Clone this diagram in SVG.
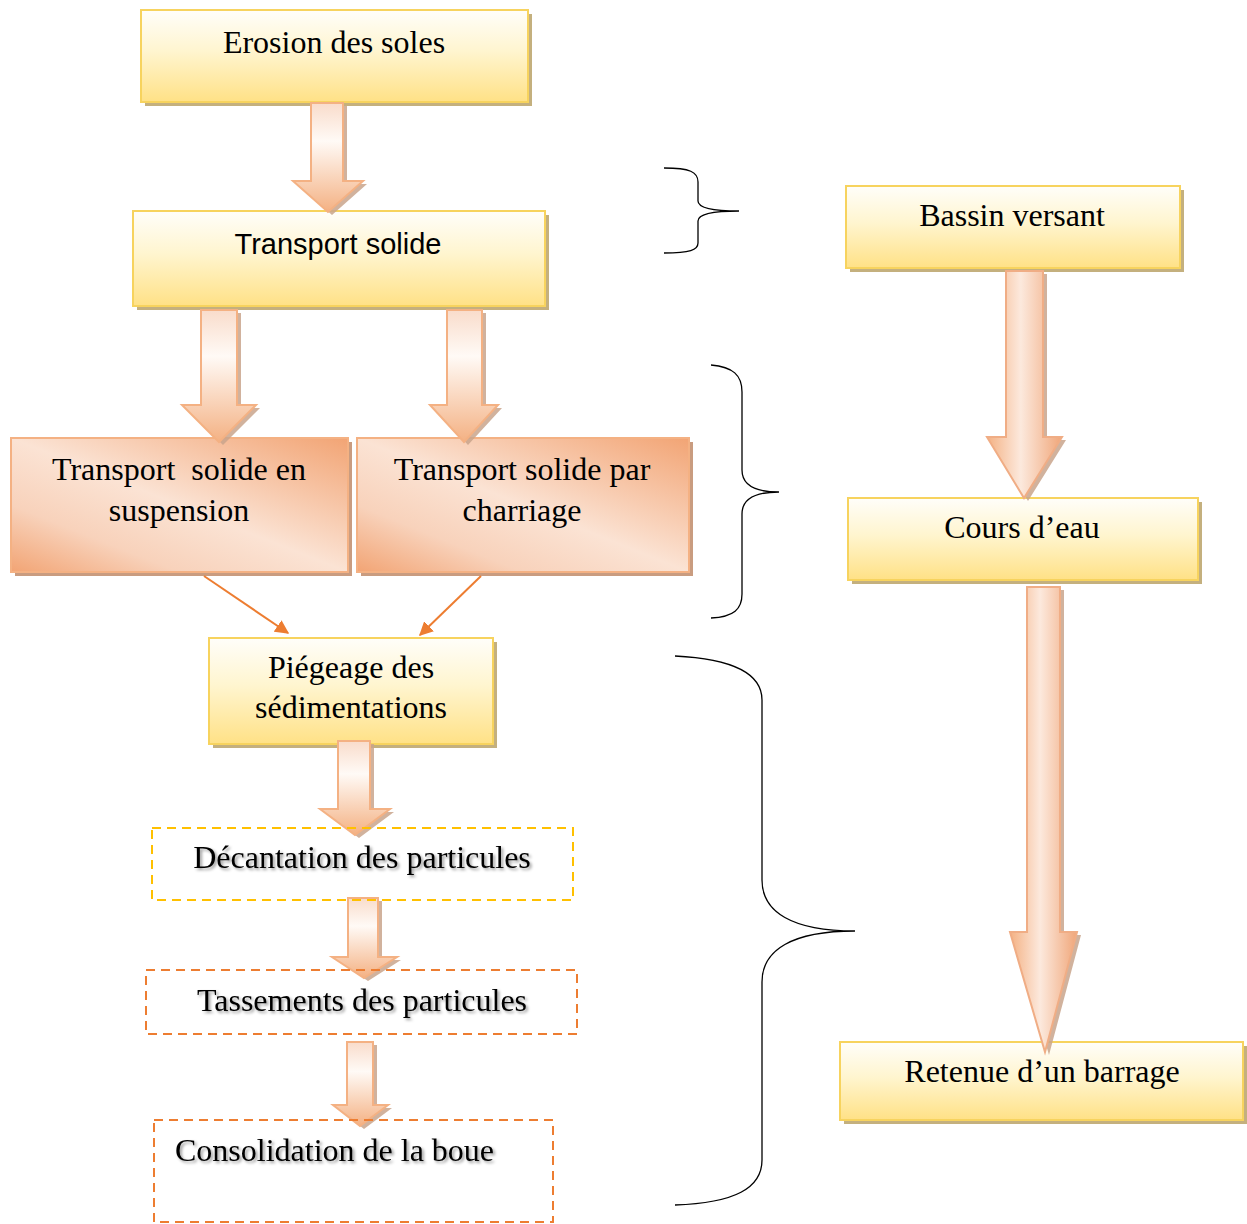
<svg xmlns="http://www.w3.org/2000/svg" width="1247" height="1224" viewBox="0 0 1247 1224">
<defs>
<linearGradient id="gy" x1="0" y1="0" x2="0" y2="1">
<stop offset="0" stop-color="#fffefa"/><stop offset="0.45" stop-color="#fff5cf"/><stop offset="1" stop-color="#ffe186"/>
</linearGradient>
<linearGradient id="go" x1="1" y1="0" x2="0" y2="1">
<stop offset="0" stop-color="#f2a474"/><stop offset="0.5" stop-color="#fbe3d4"/><stop offset="0.75" stop-color="#f8d2bb"/><stop offset="1" stop-color="#f2a474"/>
</linearGradient>
<linearGradient id="ga" x1="0" y1="0" x2="0" y2="1">
<stop offset="0" stop-color="#f9dccb"/><stop offset="0.35" stop-color="#fffaf6"/><stop offset="1" stop-color="#f4b183"/>
</linearGradient>
<linearGradient id="gah" x1="0" y1="0" x2="1" y2="0">
<stop offset="0" stop-color="#f4b183"/><stop offset="0.45" stop-color="#fce9dd"/><stop offset="1" stop-color="#f0a679"/>
</linearGradient>
<marker id="mo" viewBox="0 0 10 10" refX="9" refY="5" markerWidth="7" markerHeight="7" orient="auto" markerUnits="strokeWidth">
<path d="M0,0 L10,5 L0,10 z" fill="#ed7d31"/>
</marker>
<filter id="ts" x="-10%" y="-30%" width="120%" height="160%">
<feDropShadow dx="2" dy="2" stdDeviation="1.5" flood-color="#000" flood-opacity="0.4"/>
</filter>
</defs>
<style>
.ys{fill:#c4b07e}
.yb{fill:url(#gy);stroke:#f7d35e;stroke-width:2}
.os{fill:#c99c80}
.ob{fill:url(#go);stroke:#f4b183;stroke-width:2}
.t{font-family:"Liberation Serif","Times New Roman",serif;font-size:32px;fill:#000;text-anchor:middle}
.ts{font-family:"Liberation Sans",Arial,sans-serif;font-size:29px;fill:#000;text-anchor:middle}
.dy{fill:none;stroke:#ffc000;stroke-width:2;stroke-dasharray:9 6}
.do{fill:none;stroke:#ed7d31;stroke-width:2;stroke-dasharray:9 6}
.ash{fill:#c9a58c;opacity:0.85}
.ar{fill:url(#ga);stroke:#f4b183;stroke-width:2;stroke-linejoin:miter}
.arh{fill:url(#gah);stroke:#f0ad85;stroke-width:2}
.br{fill:none;stroke:#000;stroke-width:1.3}
.cn{fill:none;stroke:#ed7d31;stroke-width:2}
</style>

<g id="node-erosion">
<rect class="ys" x="145" y="14" width="387" height="92"/>
<rect class="yb" x="141" y="10" width="387" height="92"/>
<text class="t" x="334" y="53">Erosion des soles</text>
</g>
<g id="node-transport">
<rect class="ys" x="137" y="215" width="412" height="95"/>
<rect class="yb" x="133" y="211" width="412" height="95"/>
<text class="ts" x="338" y="254">Transport solide</text>
</g>
<g id="node-suspension">
<rect class="os" x="15" y="442" width="337" height="134"/>
<rect class="ob" x="11" y="438" width="337" height="134"/>
<text class="t" x="179" y="480" xml:space="preserve">Transport  solide en</text>
<text class="t" x="179" y="521">suspension</text>
</g>
<g id="node-charriage">
<rect class="os" x="361" y="442" width="332" height="134"/>
<rect class="ob" x="357" y="438" width="332" height="134"/>
<text class="t" x="522" y="480">Transport solide par</text>
<text class="t" x="522" y="521">charriage</text>
</g>
<g id="node-piegeage">
<rect class="ys" x="213" y="642" width="284" height="106"/>
<rect class="yb" x="209" y="638" width="284" height="106"/>
<text class="t" x="351" y="678">Piégeage des</text>
<text class="t" x="351" y="718">sédimentations</text>
</g>
<g id="node-bassin">
<rect class="ys" x="850" y="190" width="334" height="82"/>
<rect class="yb" x="846" y="186" width="334" height="82"/>
<text class="t" x="1012" y="226">Bassin versant</text>
</g>
<g id="node-cours">
<rect class="ys" x="852" y="502" width="350" height="82"/>
<rect class="yb" x="848" y="498" width="350" height="82"/>
<text class="t" x="1022" y="538">Cours d’eau</text>
</g>
<g id="node-retenue">
<rect class="ys" x="844" y="1046" width="403" height="78"/>
<rect class="yb" x="840" y="1042" width="403" height="78"/>
<text class="t" x="1042" y="1082">Retenue d’un barrage</text>
</g>

<g id="connectors">
<polygon class="ash" transform="translate(4,3)" points="311,103 343,103 343,181 363,181 328,212 293,181 311,181"/>
<polygon class="ar" points="311,103 343,103 343,181 363,181 328,212 293,181 311,181"/>
<polygon class="ash" transform="translate(4,3)" points="201,310 237,310 237,405 256,405 219,442 182,405 201,405"/>
<polygon class="ar" points="201,310 237,310 237,405 256,405 219,442 182,405 201,405"/>
<polygon class="ash" transform="translate(4,3)" points="447,310 482,310 482,405 498,405 464,442 430,405 447,405"/>
<polygon class="ar" points="447,310 482,310 482,405 498,405 464,442 430,405 447,405"/>
<polygon class="ash" transform="translate(4,3)" points="338,741 370,741 370,809 390,809 355,835 320,809 338,809"/>
<polygon class="ar" points="338,741 370,741 370,809 390,809 355,835 320,809 338,809"/>
<polygon class="ash" transform="translate(4,3)" points="348,898 378,898 378,957 397,957 364,978 332,957 348,957"/>
<polygon class="ar" points="348,898 378,898 378,957 397,957 364,978 332,957 348,957"/>
<polygon class="ash" transform="translate(4,3)" points="347,1042 373,1042 373,1105 388,1105 360,1126 333,1105 347,1105"/>
<polygon class="ar" points="347,1042 373,1042 373,1105 388,1105 360,1126 333,1105 347,1105"/>
<polygon class="ash" transform="translate(4,3)" points="1006,271 1043,271 1043,437 1062,437 1024,498 987,437 1006,437"/>
<polygon class="arh" points="1006,271 1043,271 1043,437 1062,437 1024,498 987,437 1006,437"/>
<polygon class="ash" transform="translate(4,3)" points="1027,587 1060,587 1060,932 1077,932 1045,1052 1010,932 1027,932"/>
<polygon class="arh" points="1027,587 1060,587 1060,932 1077,932 1045,1052 1010,932 1027,932"/>
<line class="cn" x1="204" y1="576" x2="288" y2="633" marker-end="url(#mo)"/>
<line class="cn" x1="481" y1="576" x2="420" y2="635" marker-end="url(#mo)"/>
<path class="br" d="M664,168 C690,168 698,172 698,182 L698,201 C698,208 712,211 739,211 C712,211 698,214 698,221 L698,243 C698,250 690,253 664,253"/>
<path class="br" d="M711,365 C733,367 742,375 742,392 L742,470 C742,485 756,492 779,492 C756,492 742,499 742,514 L742,594 C742,609 734,617 711,618"/>
<path class="br" d="M675,656 C735,659 762,675 762,700 L762,880 C762,912 792,931 855,931 C792,931 762,950 762,982 L762,1160 C762,1188 735,1203 675,1205"/>
</g>

<g id="node-decantation">
<rect class="dy" x="152" y="828" width="421" height="72"/>
<text class="t" x="362" y="868" filter="url(#ts)">Décantation des particules</text>
</g>
<g id="node-tassements">
<rect class="do" x="146" y="970" width="431" height="64"/>
<text class="t" x="362" y="1011" filter="url(#ts)">Tassements des particules</text>
</g>
<g id="node-consolidation">
<rect class="do" x="154" y="1120" width="399" height="102"/>
<text class="t" x="175" y="1161" filter="url(#ts)" style="text-anchor:start">Consolidation de la boue</text>
</g>
</svg>
